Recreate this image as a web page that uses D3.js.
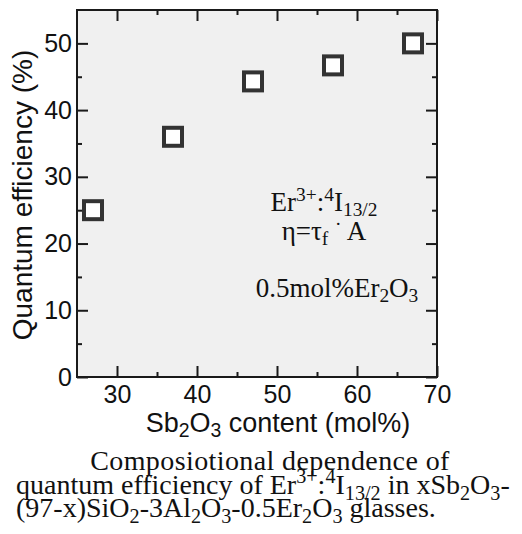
<!DOCTYPE html>
<html>
<head>
<meta charset="utf-8">
<script src="https://cdn.jsdelivr.net/npm/d3@7"></script>
<style>
  body { margin: 0; background: #fff; }
  .axis path, .axis line { stroke: #1a1a1a; stroke-width: 2; }
  .axis text { font-family: "Liberation Sans", Arial, sans-serif; font-size: 25px; fill: #111; }
</style>
</head>
<body>
<div id="chart"></div>
<script>
// data
var sb2o3 = [27, 37, 47, 57, 67];
var efficiency = [25, 36, 44.3, 46.7, 50];

var xMajor = [30, 40, 50, 60, 70];
var xMinor = [35, 45, 55, 65];
var yMajor = [0, 10, 20, 30, 40, 50];
var yMinor = [5, 15, 25, 35, 45];

// text pieces: s = sub, p = sup
var xTitle = [["Sb"], ["2", "s"], ["O"], ["3", "s"], [" content (mol%)"]];
var yTitle = "Quantum efficiency (%)";
var note1 = [["Er"], ["3+", "p"], [":"], ["4", "p"], ["I"], ["13/2", "s"]];
var note2 = [["η=τ"], ["f", "s"], [" "], ["·", "p"], [" A"]];
var note3 = [["0.5mol%Er"], ["2", "s"], ["O"], ["3", "s"]];
var cap1 = [["Composiotional dependence of"]];
var cap2 = [["quantum efficiency of Er"], ["3+", "p"], [":"], ["4", "p"], ["I"], ["13/2", "s"], [" in xSb"], ["2", "s"], ["O"], ["3", "s"], ["-"]];
var cap3 = [["(97-x)SiO"], ["2", "s"], ["-3Al"], ["2", "s"], ["O"], ["3", "s"], ["-0.5Er"], ["2", "s"], ["O"], ["3", "s"], [" glasses."]];

var W = 522, H = 534;
var margin = { top: 10, right: 85, bottom: 157, left: 77 },
    width = W - margin.left - margin.right,
    height = H - margin.top - margin.bottom;

var svg = d3.select("#chart")
    .append("svg")
    .attr("width", W)
    .attr("height", H);

var g = svg.append("g")
    .attr("transform", "translate(" + margin.left + "," + margin.top + ")");

var x = d3.scaleLinear().domain([25, 70]).range([0, width]);
var y = d3.scaleLinear().domain([0, 55]).range([height, 0]);

g.append("rect")
    .attr("width", width)
    .attr("height", height)
    .style("fill", "#f0f0f0");

// ticks pointing inward on all four sides
function addAxis(axisFn, scale, vals, size, pad, tr) {
    var a = axisFn(scale).tickValues(vals).tickSizeInner(-size).tickSizeOuter(0)
        .tickPadding(pad || 0);
    if (!pad) a.tickFormat("");
    var ax = g.append("g").attr("class", "axis").attr("transform", tr || null).call(a);
    ax.select(".domain").remove();
    return ax;
}
addAxis(d3.axisBottom, x, xMajor, 11, 8, "translate(0," + height + ")");
addAxis(d3.axisBottom, x, xMinor, 5, 0, "translate(0," + height + ")");
addAxis(d3.axisTop, x, xMajor, 11, 0);
addAxis(d3.axisTop, x, xMinor, 5, 0);
addAxis(d3.axisLeft, y, yMajor, 11, 5);
addAxis(d3.axisLeft, y, yMinor, 5, 0);
addAxis(d3.axisRight, y, yMajor, 11, 0, "translate(" + width + ",0)");
addAxis(d3.axisRight, y, yMinor, 5, 0, "translate(" + width + ",0)");

g.append("rect")
    .attr("width", width)
    .attr("height", height)
    .style("fill", "none")
    .style("stroke", "#1a1a1a")
    .style("stroke-width", 2);

// squares
g.append("g")
    .selectAll("rect")
    .data(sb2o3)
    .enter()
    .append("rect")
    .attr("x", function (d) { return x(d) - 9; })
    .attr("y", function (d, i) { return y(efficiency[i]) - 9; })
    .attr("width", 18)
    .attr("height", 18)
    .style("fill", "white")
    .style("stroke", "#333")
    .style("stroke-width", 4);

// rich text helper (relative dy keeps one text chunk so anchoring works)
function rich(parent, parts, px, py, fs, family, anchor) {
    var t = parent.append("text")
        .attr("x", px).attr("y", py)
        .attr("text-anchor", anchor)
        .style("font-family", family)
        .style("font-size", fs + "px")
        .style("fill", "#111");
    var prev = 0;
    parts.forEach(function (p) {
        var shift = p[1] === "s" ? 0.2 * fs : p[1] === "p" ? -0.38 * fs : 0;
        t.append("tspan")
            .attr("dy", shift - prev)
            .style("font-size", p[1] ? (0.72 * fs) + "px" : null)
            .text(p[0]);
        prev = shift;
    });
    return t;
}

var sans = "'Liberation Sans', Arial, sans-serif";
var serif = "'Liberation Serif', 'Times New Roman', serif";

rich(svg, xTitle, 278, 432, 27, sans, "middle");

svg.append("text")
    .attr("transform", "translate(32,195) rotate(-90)")
    .attr("text-anchor", "middle")
    .style("font-family", sans)
    .style("font-size", "28px")
    .style("fill", "#111")
    .text(yTitle);

rich(svg, note1, 324, 211, 27, serif, "middle");
rich(svg, note2, 324, 240, 27, serif, "middle");
rich(svg, note3, 337, 297, 27, serif, "middle");

rich(svg, cap1, 270, 470, 28, serif, "middle").style("letter-spacing", "0.4px");
rich(svg, cap2, 16, 494, 28, serif, "start");
rich(svg, cap3, 16, 517, 28, serif, "start");
</script>
</body>
</html>
